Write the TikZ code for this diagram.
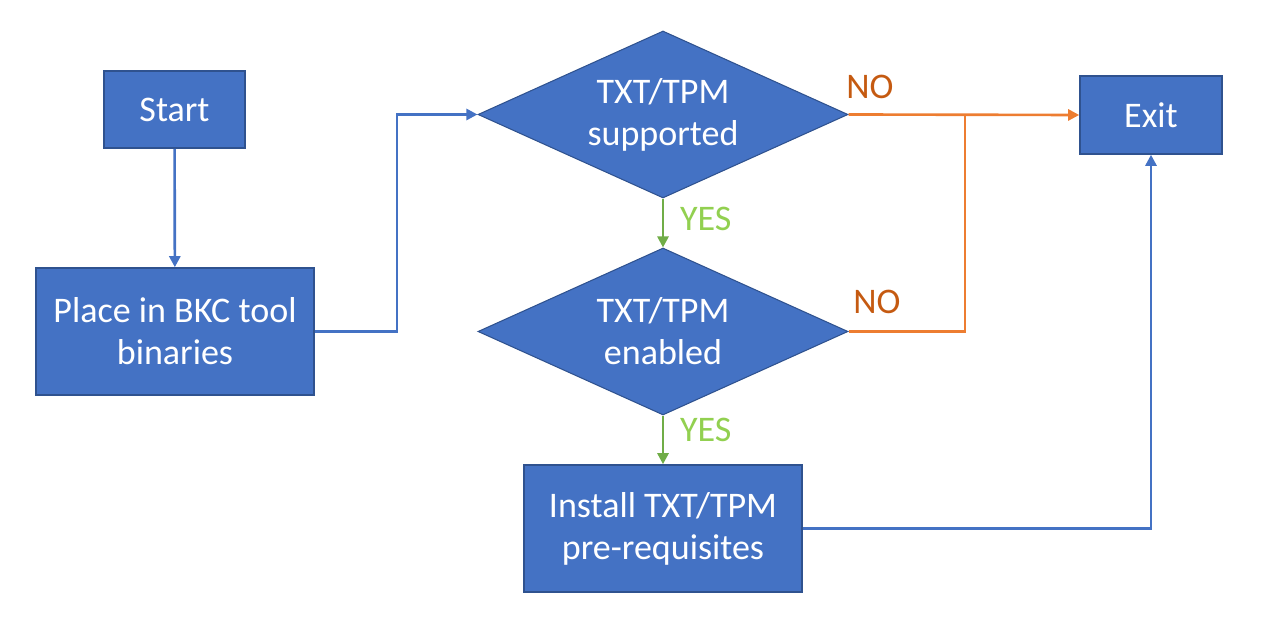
\documentclass[tikz,border=0pt]{standalone}
\usepackage{fontspec}
\setmainfont{Carlito}
\usetikzlibrary{shapes.geometric,arrows.meta}
\definecolor{boxblue}{HTML}{4472C4}
\definecolor{boxedge}{HTML}{2F528F}
\definecolor{yesgreen}{HTML}{70AD47}
\definecolor{yestext}{HTML}{92D050}
\definecolor{noorange}{HTML}{ED7D31}
\definecolor{notext}{HTML}{C55A11}
\begin{document}
\begin{tikzpicture}[
        stepbox/.style={rectangle,fill=boxblue,draw=boxedge,line width=0.9pt,
            text=white,align=center,font=\fontsize{20.5}{24}\selectfont},
        decision/.style={diamond,aspect=2.2,fill=boxblue,draw=boxedge,
            line width=0.6pt,inner sep=0pt,minimum width=7.4cm,
            minimum height=3.34cm,text=white,align=center,
            font=\fontsize{20.5}{24}\selectfont},
        flow/.style={draw=boxblue,line width=1.5pt},
        yesflow/.style={draw=yesgreen,line width=1.5pt},
        noflow/.style={draw=noorange,line width=1.5pt},
        tip/.style={-{Triangle[length=0.22cm,width=0.22cm]}},
        yeslabel/.style={text=yestext,font=\fontsize{20.5}{24}\selectfont},
        nolabel/.style={text=notext,font=\fontsize{20.5}{24}\selectfont}]
    \useasboundingbox (0,0) rectangle (25.28,12.7);

    \node[stepbox,minimum width=2.82cm,minimum height=1.54cm] (start) at (3.49,10.51) {Start};
    \node[stepbox,minimum width=5.56cm,minimum height=2.54cm] (place) at (3.50,6.07) {Place in BKC tool\\binaries};
    \node[decision] (supported) at (13.26,10.41) {TXT/TPM\\supported};
    \node[decision] (enabled) at (13.26,6.07) {TXT/TPM\\enabled};
    \node[stepbox,minimum width=5.56cm,minimum height=2.54cm] (install) at (13.26,2.13) {Install TXT/TPM\\pre-requisites};
    \node[stepbox,minimum width=2.84cm,minimum height=1.56cm] (exit) at (23.02,10.40) {Exit};
    \coordinate (join) at (19.30,10.41);

    \draw[flow,tip] (start) -- (place);
    \draw[flow,tip] (place.east) -| (7.94,10.41) -- (supported.west);
    \draw[yesflow,tip] (supported.south) -- (enabled.north)
        node[yeslabel,pos=0.42,right=0.2cm] {YES};
    \draw[yesflow,tip] (enabled.south) -- (install.north)
        node[yeslabel,pos=0.3,right=0.2cm] {YES};
    \draw[noflow,tip] (supported.east) -- (exit.west);
    \draw[noflow] (enabled.east) -| (join);
    \draw[flow,tip] (install.east) -| (exit.south);

    \node[nolabel] (no1) at (17.40,10.96) {NO};
    \node[nolabel] (no2) at (17.54,6.66) {NO};
\end{tikzpicture}
\end{document}
